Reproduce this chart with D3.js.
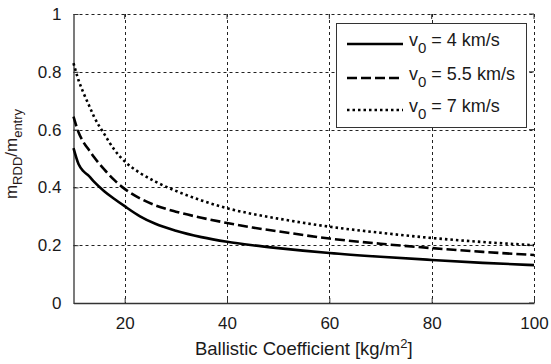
<!DOCTYPE html>
<html><head><meta charset="utf-8">
<script src="https://cdn.jsdelivr.net/npm/d3@7"></script>
<style>body{margin:0;background:#fff}svg{display:block}text{font-family:"Liberation Sans",Arial,sans-serif}</style>
</head><body><svg id="c" width="551" height="364"></svg>
<script>
const xs = [10, 11, 12, 13, 14, 16, 18, 20, 23, 26, 30, 35, 40, 45, 50, 60, 70, 80, 90, 100];
const v4 = [0.536, 0.48, 0.455, 0.44, 0.42, 0.387, 0.36, 0.335, 0.30, 0.274, 0.25, 0.228, 0.212, 0.20, 0.19, 0.173, 0.16, 0.149, 0.139, 0.131];
const v55 = [0.645, 0.59, 0.555, 0.53, 0.505, 0.462, 0.425, 0.395, 0.362, 0.338, 0.316, 0.295, 0.277, 0.261, 0.248, 0.223, 0.205, 0.19, 0.177, 0.166];
const v7 = [0.83, 0.77, 0.725, 0.685, 0.645, 0.585, 0.53, 0.49, 0.45, 0.42, 0.388, 0.355, 0.328, 0.308, 0.292, 0.264, 0.243, 0.225, 0.211, 0.20];
const xTicks = [20, 40, 60, 80, 100];
const yTicks = [0, 0.2, 0.4, 0.6, 0.8, 1];
const seriesLabels = ["4 km/s", "5.5 km/s", "7 km/s"];

const svg = d3.select("#c");
const L = 73.5, R = 534, T = 14, B = 303;
const x = d3.scaleLinear().domain([10, 100]).range([L, R]);
const y = d3.scaleLinear().domain([0, 1]).range([B, T]);
const ink = "#1a1a1a";

// grid
const g = svg.append("g");
g.selectAll(".gx").data(xTicks).join("line")
  .attr("x1", d => Math.round(x(d)) + 0.5).attr("x2", d => Math.round(x(d)) + 0.5)
  .attr("y1", T).attr("y2", B).attr("stroke", "#222").attr("stroke-width", 1).attr("stroke-dasharray", "3,3");
g.selectAll(".gy").data(yTicks.filter(d => d > 0)).join("line")
  .attr("y1", d => Math.round(y(d)) + 0.5).attr("y2", d => Math.round(y(d)) + 0.5)
  .attr("x1", L).attr("x2", R).attr("stroke", "#222").attr("stroke-width", 1).attr("stroke-dasharray", "3,3");

// axes
const xAxis = d3.axisBottom(x).tickValues(xTicks).tickSizeInner(-5).tickSizeOuter(0).tickPadding(14);
const yAxis = d3.axisLeft(y).tickValues(yTicks).tickSizeInner(-5).tickSizeOuter(0).tickPadding(12).tickFormat(d3.format("~g"));
const gx = svg.append("g").attr("transform", `translate(0,${B})`).call(xAxis);
const gy = svg.append("g").attr("transform", `translate(${L},0)`).call(yAxis);
[gx, gy].forEach(a => {
  a.select(".domain").attr("stroke", "#333").attr("stroke-width", 1.3);
  a.selectAll(".tick line").attr("stroke", "#333");
  a.selectAll("text").attr("font-size", 17).attr("fill", ink).attr("font-family", '"Liberation Sans",Arial,sans-serif');
});
gx.selectAll("text").attr("dy", "0.71em");
// top/right inward ticks
svg.append("g").selectAll("line").data(xTicks).join("line")
  .attr("x1", d => x(d)).attr("x2", d => x(d)).attr("y1", T).attr("y2", T + 5).attr("stroke", "#333");
svg.append("g").selectAll("line").data(yTicks).join("line")
  .attr("y1", d => y(d)).attr("y2", d => y(d)).attr("x1", R).attr("x2", R - 5).attr("stroke", "#333");

// lines
const series = [
  {vals: v4, dash: null},
  {vals: v55, dash: "10,4"},
  {vals: v7, dash: "2.5,3"}
];
const line = d3.line().curve(d3.curveMonotoneX).x(d => x(d[0])).y(d => y(d[1]));
series.forEach(s => {
  svg.append("path").datum(xs.map((xv, i) => [xv, s.vals[i]]))
    .attr("d", line).attr("fill", "none").attr("stroke", "#000").attr("stroke-width", 2.6)
    .attr("stroke-dasharray", s.dash);
});

// legend
const lg = svg.append("g");
lg.append("rect").attr("x", 336.5).attr("y", 23.5).attr("width", 190).attr("height", 104)
  .attr("fill", "#fff").attr("stroke", "#333").attr("stroke-width", 1);
const ly = [44, 78, 110];
series.forEach((s, i) => {
  lg.append("line").attr("x1", 347).attr("x2", 403).attr("y1", ly[i]).attr("y2", ly[i])
    .attr("stroke", "#000").attr("stroke-width", 2.6).attr("stroke-dasharray", s.dash);
  const t = lg.append("text").attr("x", 409).attr("y", ly[i] + 2).attr("font-size", 18).attr("fill", ink);
  t.append("tspan").text("v");
  t.append("tspan").attr("dy", 7).attr("font-size", 15).text("0");
  t.append("tspan").attr("dy", -7).text(" = " + seriesLabels[i]);
});

// axis labels
const xl = svg.append("text").attr("x", (L + R) / 2).attr("y", 355).attr("text-anchor", "middle")
  .attr("font-size", 18.5).attr("fill", ink);
xl.append("tspan").text("Ballistic Coefficient [kg/m");
xl.append("tspan").attr("dy", -7).attr("font-size", 13).text("2");
xl.append("tspan").attr("dy", 7).text("]");

const yl = svg.append("text").attr("transform", "translate(17,154) rotate(-90)").attr("text-anchor", "middle")
  .attr("font-size", 17).attr("fill", "#2a1a1a");
yl.append("tspan").text("m");
yl.append("tspan").attr("dy", 5).attr("font-size", 13).text("RDD");
yl.append("tspan").attr("dy", -5).text("/m");
yl.append("tspan").attr("dy", 5).attr("font-size", 13).text("entry");
</script></body></html>
